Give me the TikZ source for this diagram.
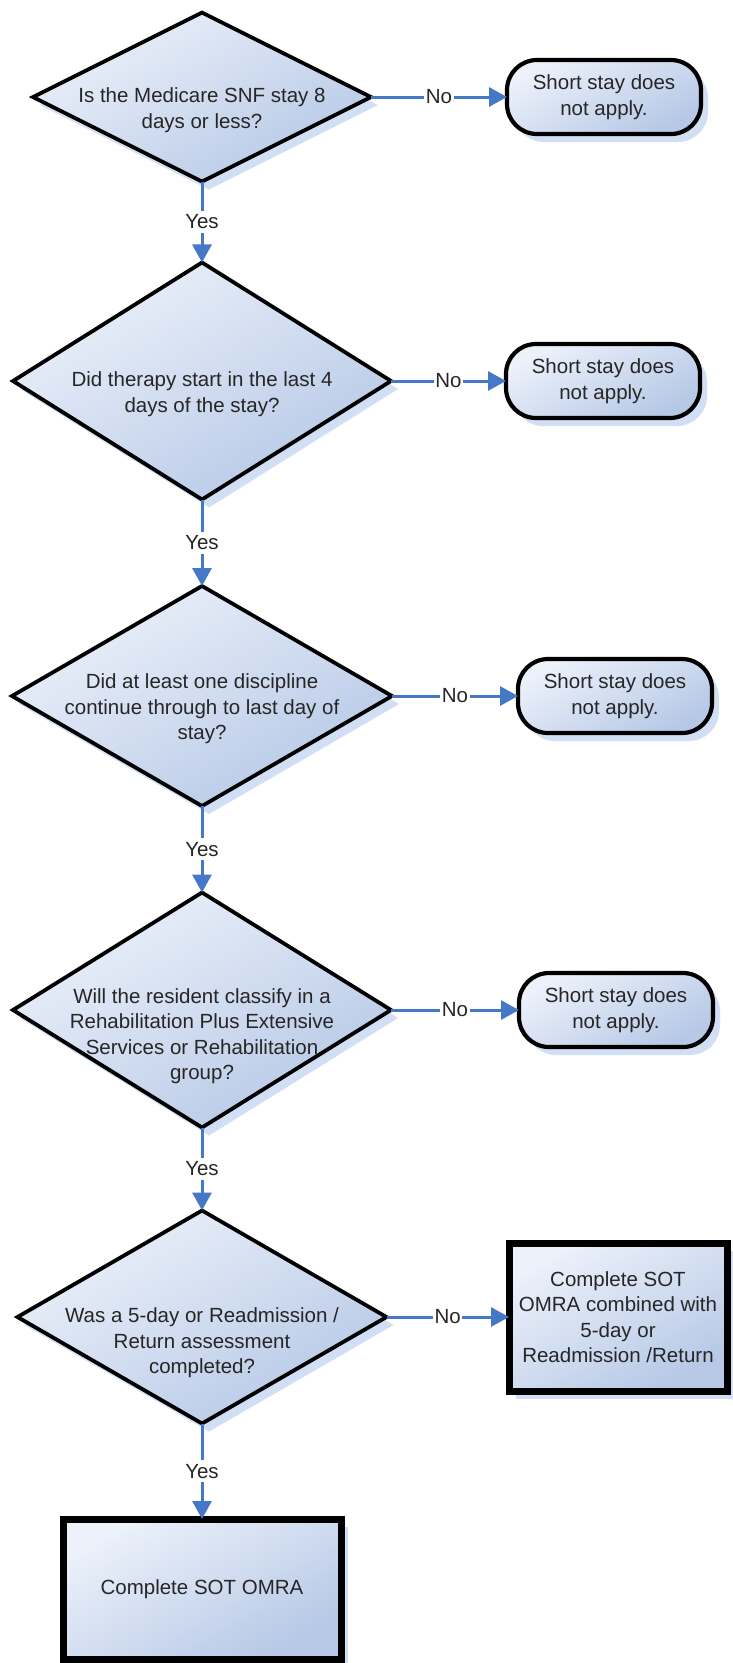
\documentclass[tikz,border=0pt]{standalone}
\usepackage{fontspec}
\setmainfont{Liberation Sans}
\usetikzlibrary{shapes.geometric,arrows.meta,shadows}
\definecolor{fillA}{RGB}{236,241,250}
\definecolor{fillB}{RGB}{182,200,230}
\definecolor{shadowc}{RGB}{210,222,243}
\definecolor{linkc}{RGB}{70,120,200}
\definecolor{textc}{RGB}{38,38,38}
\newcommand\lbl{\fontsize{20.5}{25.5}\selectfont}
\tikzset{
  base/.style={inner sep=0pt, outer sep=0pt, top color=fillA, bottom color=fillB, shading angle=30,
    drop shadow={shadow xshift=7pt, shadow yshift=-8pt, fill=shadowc, opacity=1}},
  dia/.style={base, diamond, draw=black, line width=3.8pt},
  pill/.style={base, rectangle, rounded corners=30pt, draw=black, line width=4.2pt,
    font=\lbl, text=textc, align=center, minimum width=194pt, minimum height=74pt},
  sqbox/.style={base, rectangle, draw=black, line width=7pt, font=\lbl, text=textc, align=center},
  qtext/.style={font=\lbl, text=textc, align=center, inner sep=0pt},
  lab/.style={font=\lbl, text=textc, fill=white, inner xsep=1.5pt, inner ysep=4pt},
  link/.style={draw=linkc, line width=3pt, -{Triangle[length=18pt,width=19pt]}},
}
\begin{document}
\begin{tikzpicture}[x=1pt,y=-1pt]
\fill[white] (0,0) rectangle (732,1663);
\useasboundingbox (0,0) rectangle (732,1663);

% decisions
\node[dia, minimum width=338pt, minimum height=169pt] (d1) at (202,97) {};
\node[qtext] (t1) at (202,110) {Is the Medicare SNF stay 8\\days or less?};
\node[dia, minimum width=378pt, minimum height=237pt] (d2) at (202,381) {};
\node[qtext] (t2) at (202,394) {Did therapy start in the last 4\\days of the stay?};
\node[dia, minimum width=380pt, minimum height=220pt] (d3) at (202,696) {};
\node[qtext] (t3) at (202,709) {Did at least one discipline\\continue through to last day of\\stay?};
\node[dia, minimum width=378pt, minimum height=235pt] (d4) at (202,1010) {};
\node[qtext] (t4) at (202,1036) {Will the resident classify in a\\Rehabilitation Plus Extensive\\Services or Rehabilitation\\group?};
\node[dia, minimum width=369pt, minimum height=213pt] (d5) at (202,1317) {};
\node[qtext] (t5) at (202,1343) {Was a 5-day or Readmission /\\Return assessment\\completed?};

% outcomes
\node[pill] (b1) at (604,97) {Short stay does\\not apply.};
\node[pill] (b2) at (603,381) {Short stay does\\not apply.};
\node[pill] (b3) at (615,696) {Short stay does\\not apply.};
\node[pill] (b4) at (616,1010) {Short stay does\\not apply.};
\node[sqbox, minimum width=218pt, minimum height=148pt] (b5) at (618,1317) {Complete SOT\\OMRA combined with\\5-day or\\Readmission /Return};
\node[sqbox, minimum width=278pt, minimum height=140pt] (b6) at (202,1589) {Complete SOT OMRA};

% connectors
\draw[link] (d1) -- node[lab] {No} (b1);
\draw[link] (d2) -- node[lab] {No} (b2);
\draw[link] (d3) -- node[lab] {No} (b3);
\draw[link] (d4) -- node[lab] {No} (b4);
\draw[link] (d5) -- node[lab] {No} (b5);
\draw[link] (d1) -- node[lab] {Yes} (d2);
\draw[link] (d2) -- node[lab] {Yes} (d3);
\draw[link] (d3) -- node[lab] {Yes} (d4);
\draw[link] (d4) -- node[lab] {Yes} (d5);
\draw[link] (d5) -- node[lab] {Yes} (b6);
\end{tikzpicture}
\end{document}
